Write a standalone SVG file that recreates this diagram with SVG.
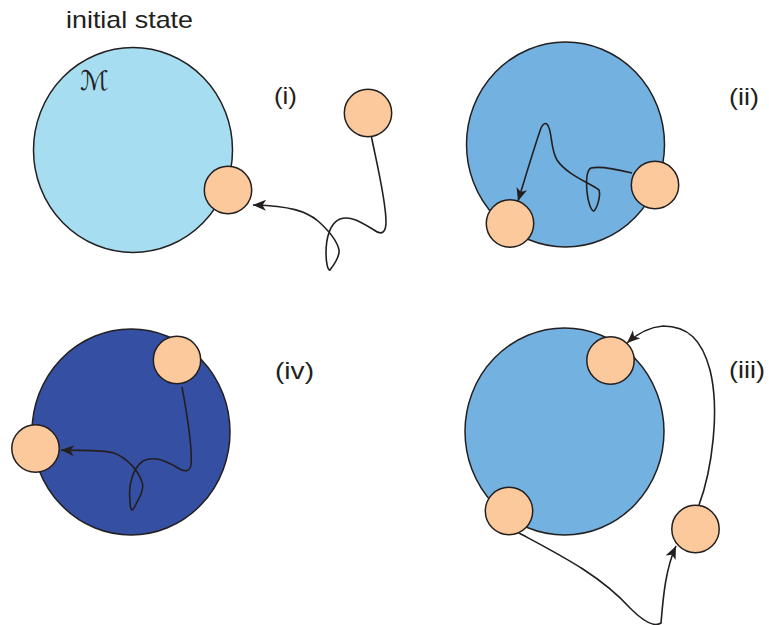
<svg xmlns="http://www.w3.org/2000/svg" width="769" height="625" viewBox="0 0 769 625">
<style>
.big{stroke:#231F20;stroke-width:1.5}
.b1{fill:#A6DDF0}
.b2{fill:#72B1E0}
.b4{fill:#354FA2}
.p{fill:#FBC99C;stroke:#231F20;stroke-width:1.5}
.c{fill:none;stroke:#231F20;stroke-width:1.6;marker-end:url(#ah)}
.t{font-family:"Liberation Sans",Arial,sans-serif;font-size:24px;fill:#231F20}
</style>
<defs>
<marker id="ah" viewBox="-14 -7 15 14" markerWidth="15" markerHeight="14" refX="0" refY="0" orient="auto" markerUnits="userSpaceOnUse">
<path d="M0,0 L-13,-5.5 L-9.5,0 L-13,5.5 Z" fill="#231F20"/>
</marker>
</defs>
<rect width="769" height="625" fill="#fff"/>
<text class="t" x="66" y="28" textLength="127" lengthAdjust="spacingAndGlyphs">initial state</text>
<text class="t" x="274" y="104" textLength="23" lengthAdjust="spacingAndGlyphs">(i)</text>
<text class="t" x="729" y="105" textLength="30" lengthAdjust="spacingAndGlyphs">(ii)</text>
<text class="t" x="729" y="378" textLength="36" lengthAdjust="spacingAndGlyphs">(iii)</text>
<text class="t" x="275" y="379" textLength="39" lengthAdjust="spacingAndGlyphs">(iv)</text>

<g id="manifold-i"><ellipse class="big b1" cx="133" cy="150" rx="99.5" ry="102.5"/>
<text x="80" y="90" style="font-family:'DejaVu Serif','DejaVu Sans',serif;font-size:27px;fill:#231F20">ℳ</text></g>
<g id="manifold-ii"><ellipse class="big b2" cx="565.5" cy="144.5" rx="99" ry="102.5"/></g>
<g id="manifold-iii"><ellipse class="big b2" cx="564.5" cy="431.5" rx="99.5" ry="103.5"/></g>
<g id="manifold-iv"><ellipse class="big b4" cx="131" cy="432" rx="99" ry="103"/></g>

<g id="connectors">
<path class="c" d="M371.5,137 C376,160 386,200 386,222 C386,232 382,236 374,230 C364,224 352,215 340,219 C330,223 326,238 326,253 C326,263 328,271 330,270 C333,266 340,257 339,250 C337,240 328,230 318,221 C306,211 290,206 253,205"/>
<path class="c" d="M632,173 C620,170 600,166 591,168 C587,170 586,180 587,192 C588,202 591,211 594,211 C597,208 601,196 599,190 C590,183 567,175 557,160 C551,150 552,135 549,128 C547,122 544,122 541,128 C535,145 526,175 518,201"/>
<path class="c" d="M182,387 C186,410 193,445 191,465 C190,472 184,472 178,468 C168,462 155,455 143,461 C133,468 128,485 130,500 C130,510 132,512 134,508 C138,500 145,490 142,482 C138,470 127,458 114,453 C100,449 80,451 61,450"/>
<path class="c" d="M519,533 C560,555 600,575 630,608 C645,623 655,627 661,623 C663,600 665,570 676,546"/>
<path class="c" d="M699,505 C712,470 720,410 710,370 C702,340 688,326 663,326 C650,327 638,333 627,343"/>
</g>

<g id="particle-i-a"><circle class="p" cx="228" cy="190" r="23.7"/></g>
<g id="particle-i-b"><circle class="p" cx="368" cy="113" r="23.7"/></g>
<g id="particle-ii-a"><circle class="p" cx="655" cy="185" r="23.7"/></g>
<g id="particle-ii-b"><circle class="p" cx="510" cy="223.5" r="23.7"/></g>
<g id="particle-iii-a"><circle class="p" cx="610.5" cy="360.5" r="23.7"/></g>
<g id="particle-iii-b"><circle class="p" cx="509" cy="511" r="23.7"/></g>
<g id="particle-iii-c"><circle class="p" cx="695.5" cy="529" r="23.7"/></g>
<g id="particle-iv-a"><circle class="p" cx="177" cy="360" r="23.7"/></g>
<g id="particle-iv-b"><circle class="p" cx="35.5" cy="448.5" r="23.7"/></g>
</svg>
